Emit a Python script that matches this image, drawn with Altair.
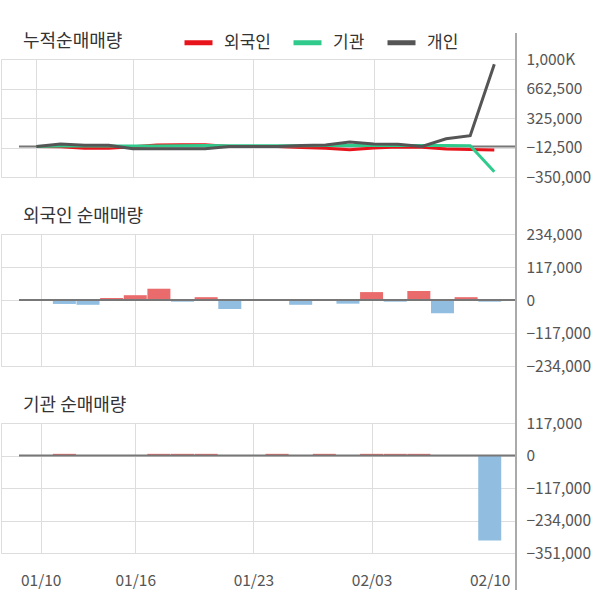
import json
import altair as alt
import pandas as pd

# ---------------- data ----------------
dates = ["01/10", "01/13", "01/14", "01/15", "01/16", "01/17", "01/20", "01/21",
         "01/22", "01/23", "01/28", "01/29", "01/30", "01/31", "02/03", "02/04",
         "02/05", "02/06", "02/07", "02/10"]
series_names = ["외국인", "기관", "개인"]

cum_foreign = [0, -5000, -22000, -22000, -5000, 17000, 20000, 20000, 0, 0,
               0, -12000, -20000, -38000, -18000, -8000, -10000, -30000, -35000, -40000]
cum_inst = [0, 4000, 4000, 4000, 4000, 6000, 8000, 10000, 8000, 8000,
            8000, 8000, 10000, 10000, 10000, 10000, 10000, 10000, 8000, -290000]
cum_indiv = [0, 27000, 12000, 12000, -28000, -28000, -28000, -28000, 0, 0,
             0, 10000, 15000, 50000, 27000, 25000, 0, 88000, 123000, 940000]

net_foreign = [0, -14000, -17000, 7000, 17000, 40000, -6000, 10000, -32000, 0,
               0, -17000, 0, -13000, 28000, -6000, 32000, -47000, 10000, -6000]
net_inst = [0, 6000, 0, 0, 0, 6000, 6000, 6000, 0, 0,
            6000, 0, 6000, 0, 6000, 6000, 6000, 0, 0, -306000]

label_idx = [0, 4, 9, 14, 19]
ticks1 = [1000000, 662500, 325000, -12500, -350000]
ticks2 = [234000, 117000, 0, -117000, -234000]
ticks3 = [117000, 0, -117000, -234000, -351000]

panel_titles = ["누적순매매량", "외국인 순매매량", "기관 순매매량"]

# ---------------- tables ----------------
rows = []
for name, vals in zip(series_names, [cum_foreign, cum_inst, cum_indiv]):
    for i, v in enumerate(vals):
        rows.append({"i": i, "d": dates[i], "s": name, "v": v})
df_lines = pd.DataFrame(rows)
df_f = pd.DataFrame({"i": list(range(len(dates))), "d": dates, "v": net_foreign})
df_f = df_f[df_f["v"] != 0]
df_i = pd.DataFrame({"i": list(range(len(dates))), "d": dates, "v": net_inst})
df_i = df_i[df_i["v"] != 0]
dummy = pd.DataFrame({"z": [0]})

# ---------------- style ----------------
FONT = "Noto Sans CJK KR"
W = 515
H1, H2, H3 = 118, 132, 130
GAP = 57
RED_LINE, GREEN_LINE, GRAY_LINE = "#e8141c", "#2fca8c", "#555555"
RED_BAR, BLUE_BAR = "#ea6b6b", "#90bde0"
GRID = "#dddddd"

date_expr = json.dumps(dates) + "[datum.value]"
grid_color = {"condition": {"test": "datum.value == 19", "value": "transparent"}, "value": GRID}


def x_enc(show_labels):
    return alt.X(
        "i:Q",
        scale=alt.Scale(domain=[-1.47, 19.9], nice=False, zero=False),
        axis=alt.Axis(values=label_idx, tickCount=len(label_idx), labels=show_labels,
                      labelExpr=date_expr, ticks=False, domain=False, grid=True,
                      gridColor=grid_color, title=None, labelFont=FONT,
                      labelFontSize=15.5, labelColor="#555", labelPadding=20,
                      labelFlush=False),
    )


def y_axis(values, expr):
    return alt.Axis(values=values, tickCount=len(values), labelOverlap=False,
                    orient="right", labelExpr=expr, ticks=False, domain=False,
                    grid=True, gridColor=GRID, title=None, labelFont=FONT,
                    labelFontSize=15.5, labelColor="#555", labelPadding=10)


def title_text(text):
    return alt.Chart(dummy).mark_text(
        text=text, align="left", baseline="middle", font=FONT, fontSize=18,
        color="#333333").encode(x=alt.value(22), y=alt.value(-17))


def zero_rule(y):
    return alt.Chart(dummy).mark_rule(color="#777777", strokeWidth=2).encode(
        y=y, x=alt.value(18), x2=alt.value(W))


def right_line(top, bottom):
    return alt.Chart(dummy).mark_rule(color="#aaaaaa", strokeWidth=2).encode(
        x=alt.value(W), y=alt.value(top), y2=alt.value(bottom))


fmt_expr = "format(datum.value, ',')"
expr1 = "datum.value == 1000000 ? '1,000K' : format(datum.value, ',')"

# ---------------- panel 1 ----------------
y1 = alt.Y("v:Q", scale=alt.Scale(domain=[-350000, 1000000], nice=False, zero=False),
           axis=y_axis(ticks1, expr1))
y1z = alt.Y("z:Q", scale=alt.Scale(domain=[-350000, 1000000], nice=False, zero=False),
            axis=y_axis(ticks1, expr1))
lines = alt.Chart(df_lines).mark_line(strokeWidth=3).encode(
    x=x_enc(False),
    y=y1,
    color=alt.Color("s:N", scale=alt.Scale(domain=series_names,
                                           range=[RED_LINE, GREEN_LINE, GRAY_LINE]),
                    legend=alt.Legend(orient="none", legendX=181, legendY=-33,
                                      direction="horizontal", title=None,
                                      symbolType="stroke", symbolStrokeWidth=5,
                                      symbolSize=784, labelFontSize=17, labelFont=FONT,
                                      labelColor="#333", columnPadding=12,
                                      labelOffset=9)),
)
p1 = alt.layer(zero_rule(y1z), lines, right_line(-26, H1 + GAP),
               title_text(panel_titles[0])).properties(width=W, height=H1)

# ---------------- panel 2 ----------------
y2 = alt.Y("v:Q", scale=alt.Scale(domain=[-234000, 234000], nice=False),
           axis=y_axis(ticks2, fmt_expr))
y2z = alt.Y("z:Q", scale=alt.Scale(domain=[-234000, 234000], nice=False),
            axis=y_axis(ticks2, fmt_expr))
bars_f = alt.Chart(df_f).mark_bar(size=23).encode(
    x=x_enc(False),
    y=y2,
    color=alt.condition("datum.v > 0", alt.value(RED_BAR), alt.value(BLUE_BAR)),
)
p2 = alt.layer(bars_f, zero_rule(y2z), right_line(0, H2 + GAP),
               title_text(panel_titles[1])).properties(width=W, height=H2)

# ---------------- panel 3 ----------------
y3 = alt.Y("v:Q", scale=alt.Scale(domain=[-351000, 117000], nice=False),
           axis=y_axis(ticks3, fmt_expr))
y3z = alt.Y("z:Q", scale=alt.Scale(domain=[-351000, 117000], nice=False),
            axis=y_axis(ticks3, fmt_expr))
bars_i = alt.Chart(df_i).mark_bar(size=23).encode(
    x=x_enc(True),
    y=y3,
    color=alt.condition("datum.v > 0", alt.value(RED_BAR), alt.value(BLUE_BAR)),
)
p3 = alt.layer(bars_i, zero_rule(y3z), right_line(0, H3 + 37),
               title_text(panel_titles[2])).properties(width=W, height=H3)

chart = alt.vconcat(p1, p2, p3, spacing=GAP, bounds="flush").resolve_scale(
    y="independent"
).properties(
    padding={"left": 0, "top": 26, "right": 5, "bottom": 5}
).configure_view(fill="#f4f4f4", stroke=None).configure(background="white")

chart.save("out.html", embed_options={"renderer": "svg", "actions": False})
